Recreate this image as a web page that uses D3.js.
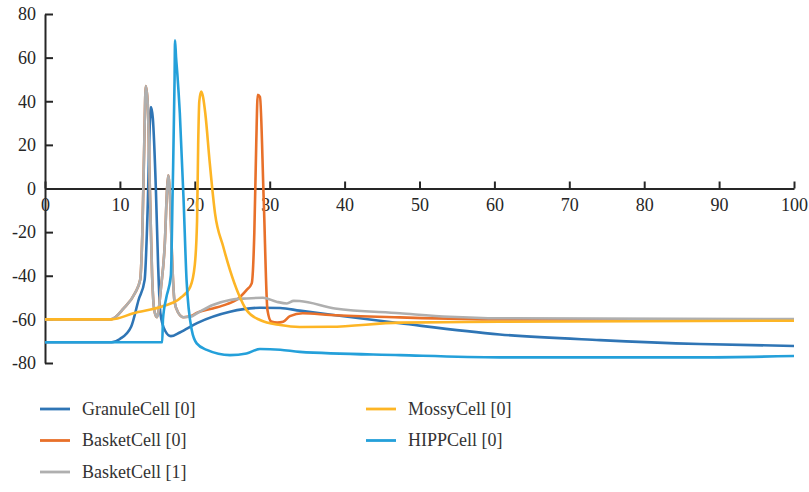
<!DOCTYPE html>
<html>
<head>
<meta charset="utf-8">
<script src="https://cdn.jsdelivr.net/npm/d3@7"></script>
<style>
body { margin: 0; background: #fff; }
svg { display: block; }
.axis text { font-family: "Liberation Serif", "DejaVu Serif", serif; font-size: 18px; fill: #262626; }
.axis path, .axis line { stroke: #262626; stroke-width: 2; }
.legend text { font-family: "Liberation Serif", "DejaVu Serif", serif; font-size: 18px; fill: #333; }
</style>
</head>
<body>
<svg class="chart" width="809" height="492"></svg>
<script>
// time (ms) / membrane potential (mV)
var seriesNames = ["GranuleCell [0]", "BasketCell [0]", "BasketCell [1]", "MossyCell [0]", "HIPPCell [0]"];
var seriesColors = ["#2f75b5", "#e8702a", "#afafaf", "#fdb525", "#24a0da"];

var granule0 = [[0,-70.5],[8.9,-70.5],[10,-69],[11.5,-63.4],[12.5,-51],[13.3,-42],[13.7,-10],[14.0,30],[14.15,37.3],[14.4,32],[14.8,0],[15.1,-35],[15.4,-57],[16,-65],[16.8,-67.7],[18,-66],[20.3,-61.7],[24.7,-56.5],[28.7,-54.7],[31.4,-54.8],[34,-56],[38,-57.8],[47.4,-61.8],[60.7,-66.9],[74.1,-69.5],[87.4,-71.3],[100,-72.2]];

var basket0 = [[0,-60],[8.8,-60],[10.5,-55],[12.0,-48],[12.7,-42],[13.0,-20],[13.25,20],[13.45,47],[13.7,40],[14.0,0],[14.3,-40],[14.6,-56],[14.95,-59],[15.5,-45],[16.0,-25],[16.3,0],[16.46,6],[16.7,-5],[17.0,-35],[17.3,-52],[17.8,-57],[18.5,-59],[19.5,-58.5],[20.25,-57],[22.4,-55],[24.3,-53],[25.6,-51],[26.9,-46.6],[27.6,-43.5],[27.95,-20],[28.2,20],[28.4,42.9],[28.7,42],[29.2,-5],[29.7,-55.7],[30.2,-61],[31.0,-61.5],[31.8,-61.1],[32.7,-58.5],[34.4,-57.2],[38.1,-58],[47.4,-59.1],[60.7,-60],[100,-60]];

var basket1 = [[0,-60],[8.8,-60],[10.5,-55],[12.0,-48],[12.7,-42],[13.0,-20],[13.25,20],[13.45,47],[13.7,40],[14.0,0],[14.3,-40],[14.6,-56],[14.95,-59],[15.5,-45],[16.0,-25],[16.3,0],[16.46,6],[16.7,-5],[17.0,-35],[17.3,-52],[17.8,-57],[18.5,-59],[19.4,-58.8],[20.3,-57.2],[22.4,-53.4],[24.7,-51.1],[26.9,-50.4],[29.1,-50.1],[30.9,-51.9],[32.3,-52.7],[33.2,-51.5],[34,-51.6],[38.7,-55],[47.4,-57.2],[54,-58.8],[60.7,-59.5],[100,-59.9]];

var mossy0 = [[0,-60],[8.9,-60],[11.8,-57.2],[15.8,-53.9],[18.0,-50.4],[19.4,-45],[20.0,-35],[20.3,-15],[20.45,20],[20.6,40],[20.85,44.5],[21.1,42],[21.4,34.5],[22.0,11.6],[22.7,-11.4],[23.8,-26.7],[24.7,-37.4],[25.8,-48],[26.9,-55.7],[28.7,-60.3],[31.4,-62.6],[34,-63.5],[38.1,-63.4],[47.4,-61.5],[60.7,-61.1],[100,-60.6]];

var hipp0 = [[0,-70.5],[15.65,-70.5],[15.75,-60],[16.2,-50],[16.8,-40],[17.05,0],[17.3,50],[17.36,68],[17.5,60],[17.66,53],[18.0,34.6],[18.5,-5],[18.9,-42],[19.6,-65],[20.25,-71],[21.6,-74],[24.7,-76.4],[26.9,-75.6],[28.7,-73.6],[31.4,-73.9],[34,-74.9],[47.4,-76.4],[60.7,-77.4],[87.4,-77.4],[100,-76.8]];

var seriesData = [granule0, basket0, basket1, mossy0, hipp0];
var xTicks = [0, 10, 20, 30, 40, 50, 60, 70, 80, 90, 100];
var yTicks = [-80, -60, -40, -20, 0, 20, 40, 60, 80];

var svg = d3.select(".chart");

var x = d3.scaleLinear().domain([0, 100]).range([45, 794]);
var y = d3.scaleLinear().domain([-80, 80]).range([363, 14]);

// plain hyphen for negatives, like the original
var fmt = function(d) { return String(d); };

// y axis, ticks pointing into the plot
var yAxis = svg.append("g")
	.attr("class", "axis")
	.attr("transform", "translate(" + x(0) + ",0)")
	.call(d3.axisLeft(y).tickValues(yTicks).tickFormat(fmt).tickSizeInner(-8).tickSizeOuter(0).tickPadding(9));
yAxis.selectAll("text").attr("x", -9).attr("text-anchor", "end");

// x axis sits on y = 0
var xAxis = svg.append("g")
	.attr("class", "axis")
	.attr("transform", "translate(0," + y(0) + ")")
	.call(d3.axisBottom(x).tickValues(xTicks).tickFormat(fmt).tickSizeInner(-7).tickSizeOuter(0).tickPadding(10));
xAxis.selectAll("text").attr("y", 10);

var line = d3.line()
	.x(function(d) { return x(d[0]); })
	.y(function(d) { return y(d[1]); })
	.curve(d3.curveMonotoneX);

svg.append("g").selectAll("path")
	.data(seriesData)
	.enter().append("path")
	.attr("fill", "none")
	.attr("stroke", function(d, i) { return seriesColors[i]; })
	.attr("stroke-width", 2.6)
	.attr("stroke-linejoin", "round")
	.attr("d", line);

// legend: two columns, filled column by column
var legend = svg.append("g").attr("class", "legend");
var legItem = legend.selectAll("g")
	.data(seriesNames)
	.enter().append("g")
	.attr("transform", function(d, i) {
		var col = i < 3 ? 0 : 1, row = i < 3 ? i : i - 3;
		return "translate(" + (40 + col * 326) + "," + (409 + row * 31.5) + ")";
	});
legItem.append("line")
	.attr("x1", 0).attr("x2", 30)
	.attr("stroke", function(d, i) { return seriesColors[i]; })
	.attr("stroke-width", 2.8);
legItem.append("text")
	.attr("x", 42)
	.attr("dy", "0.33em")
	.text(function(d) { return d; });
</script>
</body>
</html>
